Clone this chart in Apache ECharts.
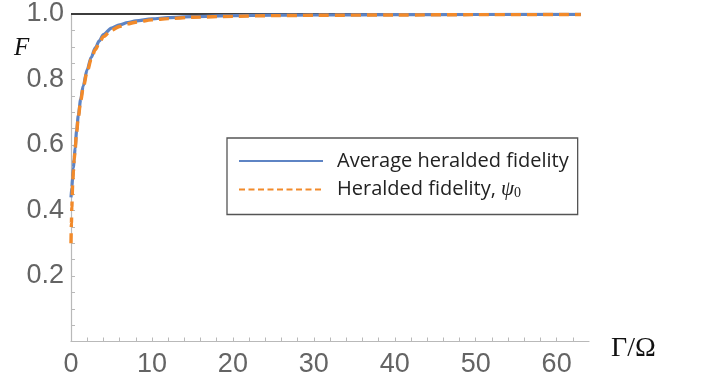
<!DOCTYPE html>
<html>
<head>
<meta charset="utf-8">
<script src="https://cdn.jsdelivr.net/npm/echarts@6.0.0/dist/echarts.min.js"></script>
<style>
html,body{margin:0;padding:0;background:#fff;}
#chart{width:702px;height:388px;}
</style>
</head>
<body>
<div id="chart"></div>
<script>
// Γ/Ω sample positions
var gammaAvg = [0, 0.1, 0.2, 0.3, 0.4, 0.5, 0.7, 0.9, 1.2, 1.5, 2, 2.5, 3, 3.5, 4, 5, 6, 7, 8, 10, 12, 15, 20, 25, 30, 40, 50, 63];
var fidelityAvg = [0.44, 0.47, 0.50, 0.53, 0.56, 0.59, 0.645, 0.69, 0.74, 0.78, 0.83, 0.868, 0.897, 0.918, 0.937, 0.957, 0.967, 0.974, 0.979, 0.985, 0.989, 0.992, 0.995, 0.9963, 0.997, 0.998, 0.9985, 0.999];
var gammaPsi = [0, 0.05, 0.1, 0.2, 0.3, 0.4, 0.5, 0.7, 0.9, 1.2, 1.5, 2, 2.5, 3, 3.5, 4, 5, 6, 7, 8, 10, 12, 15, 20, 25, 30, 40, 50, 63];
var fidelityPsi = [0.30, 0.36, 0.41, 0.475, 0.52, 0.555, 0.585, 0.64, 0.685, 0.735, 0.774, 0.824, 0.862, 0.891, 0.912, 0.931, 0.951, 0.962, 0.970, 0.975, 0.982, 0.986, 0.990, 0.993, 0.995, 0.996, 0.997, 0.998, 0.9985];
var referenceX = [0, 63];
var referenceY = [1, 1];
var seriesNames = ['Average heralded fidelity', 'Heralded fidelity, ψ0'];
var xTickValues = [0, 10, 20, 30, 40, 50, 60];
var yTickValues = [0.2, 0.4, 0.6, 0.8, 1.0];

function pairs(xs, ys) { return xs.map(function (x, i) { return [x, ys[i]]; }); }

var chart = echarts.init(document.getElementById('chart'), null, {renderer: 'canvas'});
var axisGray = '#b9b9b9';
var labelGray = '#646464';

chart.setOption({
  animation: false,
  backgroundColor: '#ffffff',
  grid: {left: 71, right: 113, top: 14, bottom: 46.5, containLabel: false},
  xAxis: {
    type: 'value', min: 0, max: 64, interval: 2,
    axisLine: {show: true, lineStyle: {color: axisGray, width: 1.2}},
    axisTick: {show: true, inside: true, length: 4, lineStyle: {color: axisGray, width: 1}},
    splitLine: {show: false},
    axisLabel: {
      color: labelGray, fontSize: 27, fontFamily: 'Liberation Sans, Arial, sans-serif', margin: 10,
      showMaxLabel: false,
      formatter: function (v) {
        for (var i = 0; i < xTickValues.length; i++) { if (Math.abs(v - xTickValues[i]) < 1e-6) return String(xTickValues[i]); }
        return '';
      }
    }
  },
  yAxis: {
    type: 'value', min: 0, max: 1, interval: 0.05,
    axisLine: {show: true, lineStyle: {color: axisGray, width: 1.2}},
    axisTick: {show: true, inside: true, length: 4, lineStyle: {color: axisGray, width: 1}},
    splitLine: {show: false},
    axisLabel: {
      color: labelGray, fontSize: 27, fontFamily: 'Liberation Sans, Arial, sans-serif', margin: 7,
      formatter: function (v) {
        for (var i = 0; i < yTickValues.length; i++) { if (Math.abs(v - yTickValues[i]) < 1e-6) return yTickValues[i].toFixed(1); }
        return '';
      }
    }
  },
  legend: {
    left: 227, top: 138, orient: 'vertical',
    backgroundColor: '#ffffff', borderColor: '#555555', borderWidth: 1.3, borderRadius: 0,
    padding: [13, 9, 14, 11], itemGap: 8, itemWidth: 84, itemHeight: 14,
    itemStyle: {opacity: 0},
    lineStyle: {width: 2},
    textStyle: {
      color: '#222222', fontSize: 20, fontFamily: 'Open Sans, sans-serif', lineHeight: 20,
      rich: {
        t: {fontSize: 20, fontFamily: 'Open Sans, sans-serif', color: '#222222', padding: [0, 0, 0, 9]},
        psi: {fontSize: 21, fontFamily: 'Liberation Serif, serif', fontStyle: 'italic', color: '#222222'},
        sub: {fontSize: 14, fontFamily: 'Liberation Serif, serif', color: '#222222', padding: [8, 0, 0, 0]}
      }
    },
    formatter: function (name) {
      if (name === seriesNames[1]) return '{t|Heralded fidelity, }{psi|ψ}{sub|0}';
      return '{t|' + name + '}';
    },
    data: [
      {name: seriesNames[0], itemStyle: {opacity: 0}, lineStyle: {type: 'solid', width: 2}},
      {name: seriesNames[1], itemStyle: {opacity: 0}, lineStyle: {type: [6, 3.5], width: 2}}
    ]
  },
  graphic: [
    {type: 'text', left: 14, top: 36, style: {text: 'F', font: 'italic 25px "Liberation Serif", serif', fill: '#111'}},
    {type: 'text', left: 611, top: 335, style: {text: 'Γ/Ω', font: '28px "Liberation Serif", serif', fill: '#111'}}
  ],
  series: [
    {
      type: 'line', name: 'ref', data: pairs(referenceX, referenceY), symbol: 'none', silent: true,
      lineStyle: {color: '#3c3c3c', width: 1.8}, z: 1
    },
    {
      type: 'line', name: seriesNames[0], data: pairs(gammaAvg, fidelityAvg), symbol: 'none',
      smooth: 0.3, smoothMonotone: 'x', color: '#5E84C4',
      lineStyle: {color: '#5E84C4', width: 3.2, type: 'solid'}, z: 2
    },
    {
      type: 'line', name: seriesNames[1], data: pairs(gammaPsi, fidelityPsi), symbol: 'none',
      smooth: 0.3, smoothMonotone: 'x', color: '#F28A2A',
      lineStyle: {color: '#F28A2A', width: 3.4, type: [10, 6]}, z: 3
    }
  ]
});
</script>
</body>
</html>
